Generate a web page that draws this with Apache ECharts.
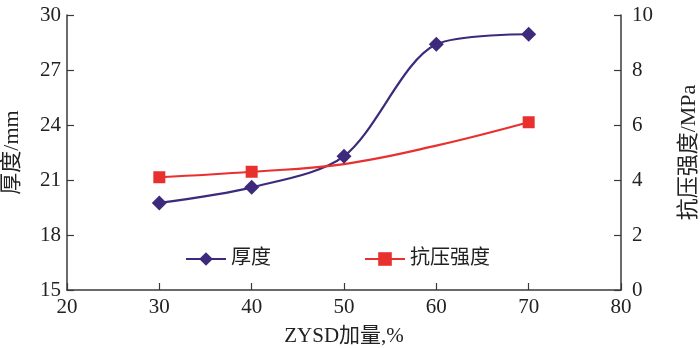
<!DOCTYPE html>
<html>
<head>
<meta charset="utf-8">
<script src="https://cdn.jsdelivr.net/npm/echarts@6/dist/echarts.min.js"></script>
<style>
html,body{margin:0;padding:0;background:#fff;}
#chart{width:700px;height:348px;}
</style>
</head>
<body>
<div id="chart"></div>
<script>
// ZYSD dosage (%) and measured values
const dosage = [30, 40, 50, 60, 70];
const thickness = [19.75, 20.6, 22.3, 28.4, 28.95];          // mm
const strength = [4.1, 4.3, 4.58, 5.25, 6.1];                // MPa
const strengthMarked = [true, true, false, false, true];     // tested points carry a marker

const xTicks = [20, 30, 40, 50, 60, 70, 80];
const leftTicks = [15, 18, 21, 24, 27, 30];
const rightTicks = [0, 2, 4, 6, 8, 10];

const FONT = "'Liberation Serif', 'Times New Roman', 'Noto Sans CJK SC', serif";
const AXIS_COLOR = '#3a3a3a';
const PURPLE = '#3d2a7c';
const RED = '#e8302e';

const chart = echarts.init(document.getElementById('chart'));

const axisCommon = {
  axisLine: { show: true, lineStyle: { color: AXIS_COLOR, width: 1.5 } },
  axisTick: { show: true, inside: true, length: 7, lineStyle: { color: AXIS_COLOR, width: 1.2 } },
  splitLine: { show: false },
  axisLabel: { color: '#222', fontFamily: FONT, fontSize: 21 },
  nameTextStyle: { color: '#222', fontFamily: FONT, fontSize: 21 }
};

chart.setOption({
  backgroundColor: '#fff',
  animation: false,
  grid: { left: 67, right: 79, top: 15, bottom: 58, outerBoundsMode: 'none', containLabel: false },
  legend: [
    {
      data: ['厚度'], left: 180, top: 244, itemWidth: 40, itemHeight: 17, itemGap: 10,
      textStyle: { fontFamily: FONT, fontSize: 20, color: '#222' }
    },
    {
      data: ['抗压强度'], left: 359, top: 244, itemWidth: 40, itemHeight: 17, itemGap: 10,
      textStyle: { fontFamily: FONT, fontSize: 20, color: '#222' }
    }
  ],
  xAxis: Object.assign({}, axisCommon, {
    type: 'value', min: xTicks[0], max: xTicks[xTicks.length - 1], interval: 10,
    name: 'ZYSD加量,%', nameLocation: 'middle', nameGap: 36,
    axisLabel: Object.assign({}, axisCommon.axisLabel, { margin: 7 })
  }),
  yAxis: [
    Object.assign({}, axisCommon, {
      type: 'value', min: leftTicks[0], max: leftTicks[leftTicks.length - 1], interval: 3,
      name: '厚度/mm', nameLocation: 'middle', nameGap: 44, nameRotate: 90,
      axisLabel: Object.assign({}, axisCommon.axisLabel, { margin: 6 }),
      nameTextStyle: Object.assign({}, axisCommon.nameTextStyle, { fontSize: 22 })
    }),
    Object.assign({}, axisCommon, {
      type: 'value', position: 'right', min: rightTicks[0], max: rightTicks[rightTicks.length - 1], interval: 2,
      name: '抗压强度/MPa', nameLocation: 'middle', nameGap: 57, nameRotate: 90,
      axisLabel: Object.assign({}, axisCommon.axisLabel, { margin: 11 }),
      nameTextStyle: Object.assign({}, axisCommon.nameTextStyle, { fontSize: 22 })
    })
  ],
  series: [
    {
      name: '厚度', type: 'line', yAxisIndex: 0, smooth: 0.3,
      data: dosage.map((d, i) => [d, thickness[i]]),
      symbol: 'diamond', symbolSize: 15,
      lineStyle: { color: PURPLE, width: 2.2 },
      itemStyle: { color: PURPLE }
    },
    {
      name: '抗压强度', type: 'line', yAxisIndex: 1, smooth: 0.4,
      data: dosage.map((d, i) => ({
        value: [d, strength[i]],
        symbol: strengthMarked[i] ? 'rect' : 'none'
      })),
      symbol: 'rect', symbolSize: 12,
      lineStyle: { color: RED, width: 2.2 },
      itemStyle: { color: RED }
    }
  ]
});
</script>
</body>
</html>
